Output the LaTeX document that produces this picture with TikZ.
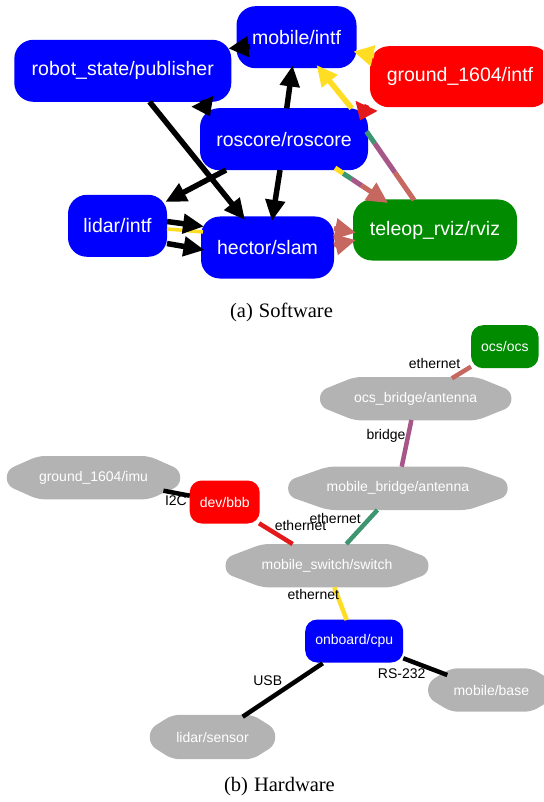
\documentclass[tikz,border=0pt]{standalone}
\usepackage{fontspec}
\newfontfamily\labelfont{Liberation Sans}
\newfontfamily\captionfont{Liberation Serif}
\usetikzlibrary{arrows.meta,calc,backgrounds}

\definecolor{nodeblue}{RGB}{0,0,255}
\definecolor{nodered}{RGB}{255,0,0}
\definecolor{nodegreen}{RGB}{0,139,0}
\definecolor{nodegray}{RGB}{179,179,179}
\definecolor{edgeyellow}{RGB}{255,221,34}
\definecolor{edgered}{RGB}{227,26,28}
\definecolor{edgesalmon}{RGB}{199,104,96}
\definecolor{edgepurple}{RGB}{166,86,135}
\definecolor{edgegreen}{RGB}{62,150,112}

\tikzset{
  swbox/.style={rectangle, rounded corners=19pt, inner sep=0pt, text=white,
    minimum height=62pt, font=\labelfont\fontsize{19.5}{22}\selectfont},
  hwbox/.style={rectangle, rounded corners=12pt, inner sep=0pt, text=white,
    minimum height=43pt, font=\labelfont\fontsize{14}{16}\selectfont},
  hwoct/.style={rectangle, inner sep=0pt, text=white,
    minimum height=43pt, font=\labelfont\fontsize{14}{16}\selectfont},
  octfill/.style={fill=nodegray, rounded corners=7pt},
  flow/.style={line width=5.5pt, -{Triangle[length=21pt,width=19pt]}},
  tint/.style={line width=5pt},
  link/.style={line width=4.5pt},
  linklabel/.style={font=\labelfont\fontsize{14}{16}\selectfont, inner sep=0pt, text=black},
  caption/.style={font=\captionfont\fontsize{20.5}{24}\selectfont, inner sep=0pt},
}

% rounded octagon filled behind a (rectangular, invisible) node
\newcommand\octashape[1]{%
  \fill[octfill]
    ($(#1.north west)!0.18!(#1.north east)$) --
    ($(#1.north west)!0.82!(#1.north east)$) --
    ($(#1.north east)!0.32!(#1.south east)$) --
    ($(#1.north east)!0.68!(#1.south east)$) --
    ($(#1.south west)!0.82!(#1.south east)$) --
    ($(#1.south west)!0.18!(#1.south east)$) --
    ($(#1.north west)!0.68!(#1.south west)$) --
    ($(#1.north west)!0.32!(#1.south west)$) -- cycle;}

\begin{document}
\begin{tikzpicture}[x=1pt, y=-1pt]
\clip (0,0) rectangle (543,802);

% ---------------- software graph ----------------
\node[swbox, fill=nodeblue, minimum width=120pt] (mob) at (296.5,37.2) {mobile/intf};
\node[swbox, fill=nodeblue, minimum width=217pt] (rob) at (122.8,70.8) {robot\_state/publisher};
\node[swbox, fill=nodered, minimum width=180pt, minimum height=61pt] (gnd) at (460,76.7) {ground\_1604/intf};
\node[swbox, fill=nodeblue, minimum width=168pt] (ros) at (284,139.2) {roscore/roscore};
\node[swbox, fill=nodeblue, minimum width=99pt] (lid) at (117.5,225.8) {lidar/intf};
\node[swbox, fill=nodeblue, minimum width=133pt] (hec) at (267.5,247.5) {hector/slam};
\node[swbox, fill=nodegreen, minimum width=164pt, minimum height=61pt] (tel) at (435,230) {teleop\_rviz/rviz};

% black flows
\draw[line width=5.5pt, -{Triangle[length=20pt,width=20pt]}]
  ([shift={(-46.5,9.3)}]mob.center) -- ([shift={(105.7,-22.3)}]rob.center);
\draw[line width=5.5pt, -{Triangle[length=17pt,width=23pt]}]
  ([shift={(79.2,29.7)}]rob.center) -- ([shift={(-74,-22.7)}]ros.center);
\draw[flow] ([shift={(2.7,-30.7)}]ros.center) -- ([shift={(-3.9,28.3)}]mob.center);
\draw[flow] ([shift={(-58,30.8)}]ros.center) -- ([shift={(47.8,-23.8)}]lid.center);
\draw[flow] ([shift={(-4,30.8)}]ros.center) -- ([shift={(4.5,-26.5)}]hec.center);
\draw[flow] ([shift={(26.7,30.9)}]rob.center) -- ([shift={(-22.5,-27.5)}]hec.center);
\draw[edgeyellow, line width=3.5pt]
  ([shift={(49.5,3.2)}]lid.center) -- ([shift={(-64.5,-15.5)}]hec.center);
\draw[flow] ([shift={(49.5,-4.3)}]lid.center) -- ([shift={(-63.5,-21)}]hec.center);
\draw[flow] ([shift={(49.5,17.7)}]lid.center) -- ([shift={(-63,2.5)}]hec.center);

% coloured flows
\draw[edgeyellow, line width=5pt, -{Triangle[length=20pt,width=20pt]}]
  ([shift={(-86,-20.7)}]gnd.center) -- ([shift={(57,14.3)}]mob.center);
\draw[edgeyellow, flow] ([shift={(67.7,-30.9)}]ros.center) -- ([shift={(20,27.8)}]mob.center);
\draw[edgered, line width=5pt, -{Triangle[length=16pt,width=23pt]}]
  ([shift={(-93,28.3)}]gnd.center) -- ([shift={(76,-18.7)}]ros.center);

% teleop -> roscore, striped
\coordinate (tr0) at ([shift={(82.5,-7.7)}]ros.center);
\coordinate (tr1) at ([shift={(-21,-30)}]tel.center);
\draw[edgegreen, tint] (tr0) -- ($(tr0)!0.175!(tr1)$);
\draw[edgepurple, tint] ($(tr0)!0.175!(tr1)$) -- ($(tr0)!0.6!(tr1)$);
\draw[edgesalmon, tint] ($(tr0)!0.6!(tr1)$) -- (tr1);

% roscore -> teleop, striped
\coordinate (rt0) at ([shift={(51,28.8)}]ros.center);
\coordinate (rt1) at ([shift={(-47,-27)}]tel.center);
\draw[edgeyellow, tint] (rt0) -- ($(rt0)!0.157!(rt1)$);
\draw[edgegreen, tint] ($(rt0)!0.157!(rt1)$) -- ($(rt0)!0.315!(rt1)$);
\draw[edgepurple, tint] ($(rt0)!0.315!(rt1)$) -- ($(rt0)!0.5!(rt1)$);
\draw[edgesalmon, tint, -{Triangle[length=21pt,width=20pt]}] ($(rt0)!0.5!(rt1)$) -- (rt1);

% hector -> teleop
\draw[edgesalmon, line width=5pt, -{Triangle[length=21pt,width=20pt]}]
  ([shift={(66.5,-19)}]hec.center) -- ([shift={(-79,2.7)}]tel.center);
\draw[edgesalmon, line width=5pt, -{Triangle[length=21pt,width=20pt]}]
  ([shift={(66.5,-2.5)}]hec.center) -- ([shift={(-79,10)}]tel.center);

\node[caption] (capa) at (281.5,312) {(a)\hspace{6pt}Software};

% ---------------- hardware graph ----------------
\node[hwbox, fill=nodegreen, minimum width=67.5pt] (ocs) at (504.8,346.7) {ocs/ocs};
\node[hwoct, minimum width=191pt] (ocsb) at (415.7,398.7) {ocs\_bridge/antenna};
\node[hwoct, minimum width=219pt] (mobb) at (397.9,488.3) {mobile\_bridge/antenna};
\node[hwoct, minimum width=173pt] (gimu) at (93.5,477.7) {ground\_1604/imu};
\node[hwbox, fill=nodered, minimum width=70pt] (bbb) at (224.7,502) {dev/bbb};
\node[hwoct, minimum width=202.5pt] (sw) at (327,565.7) {mobile\_switch/switch};
\node[hwbox, fill=nodeblue, minimum width=98pt] (cpu) at (354.2,641) {onboard/cpu};
\node[hwoct, minimum width=126pt] (base) at (491.3,690) {mobile/base};
\node[hwoct, minimum width=125pt, minimum height=44pt] (sensor) at (212.5,737) {lidar/sensor};

\begin{pgfonlayer}{background}
  \octashape{ocsb}
  \octashape{mobb}
  \octashape{gimu}
  \octashape{sw}
  \octashape{base}
  \octashape{sensor}
\end{pgfonlayer}

\draw[edgesalmon, link] ([shift={(-33.8,20)}]ocs.center) -- ([shift={(36.2,-20.4)}]ocsb.center);
\draw[edgepurple, link] ([shift={(-4.3,21.3)}]ocsb.center) -- ([shift={(3.8,-21.6)}]mobb.center);
\draw[black, link] ([shift={(69.9,13)}]gimu.center) -- ([shift={(-34.9,-6.3)}]bbb.center);
\draw[edgered, link] ([shift={(34.3,21.3)}]bbb.center) -- ([shift={(-34.4,-21.7)}]sw.center);
\draw[edgegreen, link] ([shift={(-20.5,21.7)}]mobb.center) -- ([shift={(19.3,-21.7)}]sw.center);
\draw[edgeyellow, link] ([shift={(7.3,21.6)}]sw.center) -- ([shift={(-7.5,-21)}]cpu.center);
\draw[black, link] ([shift={(-31.5,22.3)}]cpu.center) -- ([shift={(30.2,-20.3)}]sensor.center);
\draw[black, link] ([shift={(49.1,17.3)}]cpu.center) -- ([shift={(-44,-15)}]base.center);

\node[linklabel] (l1) at (434.6,363.3) {ethernet};
\node[linklabel] (l2) at (386,435.7) {bridge};
\node[linklabel] (l3) at (175.9,500.7) {I2C};
\node[linklabel] (l4) at (300.5,525.7) {ethernet};
\node[linklabel] (l5) at (335.2,518.7) {ethernet};
\node[linklabel] (l6) at (313.3,594.3) {ethernet};
\node[linklabel] (l7) at (267.7,681) {USB};
\node[linklabel] (l8) at (401.7,673.3) {RS-232};

\node[caption] (capb) at (279.5,787) {(b)\hspace{6pt}Hardware};
\end{tikzpicture}
\end{document}
